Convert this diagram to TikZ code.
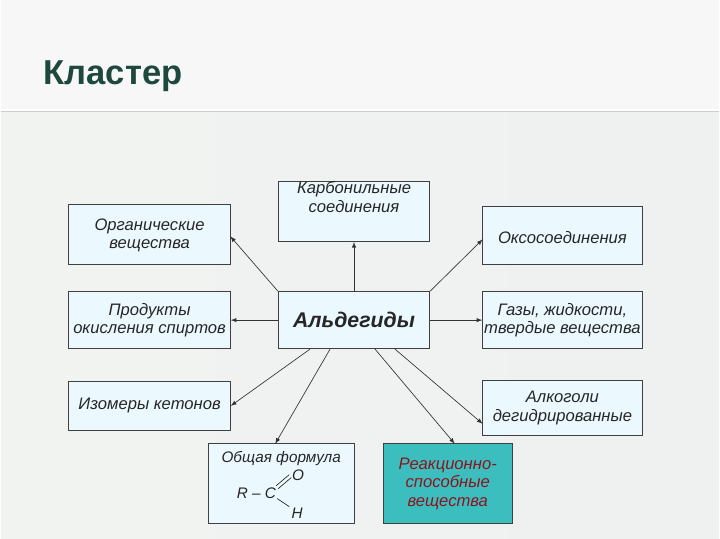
\documentclass[tikz,border=0pt]{standalone}
\usepackage{fontspec}
\setmainfont{Liberation Sans}
\begin{document}
\begin{tikzpicture}[x=0.75pt,y=-0.75pt,
  box/.style={draw=black!75,fill=cyan!8,line width=0.6pt,inner sep=0pt,align=center,font=\itshape\fontsize{12.5}{14}\selectfont,text=black!85},
  arr/.style={-latex,line width=0.5pt,black!80}]
\fill[left color=green!8!gray!10,right color=cyan!6!gray!12] (0,110) rectangle (720,540);
\fill[gray!6] (0,0) rectangle (720,110);
\draw[white,line width=1.5pt] (0,110)--(720,110);
\draw[gray!40,line width=0.8pt] (0,112)--(720,112);
\node[anchor=base west,font=\bfseries\fontsize{26}{30}\selectfont,text={rgb,255:red,30;green,72;blue,62}] (title) at (38,85) {Кластер};
\node[box,minimum width=121.5pt,minimum height=45pt] (org) at (149,235) {\\[-4pt]Органические\\вещества};
\node[box,minimum width=114pt,minimum height=41pt] (carb) at (354,212) {Карбонильные\\соединения\\[8pt]};
\node[box,minimum width=120pt,minimum height=43pt] (oxo) at (563,236) {\\[-2pt]Оксосоединения};
\node[box,minimum width=121.5pt,minimum height=43pt] (prod) at (149,321) {Продукты\\окисления спиртов};
\node[box,minimum width=114pt,minimum height=43pt,font=\bfseries\itshape\fontsize{16}{18}\selectfont] (ald) at (354,321) {Альдегиды};
\node[box,minimum width=120pt,minimum height=43pt] (gas) at (563,321) {Газы, жидкости,\\твердые вещества};
\node[box,minimum width=121.5pt,minimum height=37.5pt] (iso) at (149,407) {Изомеры кетонов};
\node[box,minimum width=120pt,minimum height=41pt] (alc) at (563,409) {Алкоголи\\дегидрированные};
\node[box,minimum width=110pt,minimum height=60pt] (form) at (281,485) {};
\node[anchor=north,font=\itshape\fontsize{11.5}{13}\selectfont,text=black!85] (ft) at (281,448) {Общая формула};
\node[font=\itshape\fontsize{11.5}{13}\selectfont,anchor=east,inner sep=0pt,text=black!85] (rc) at (276,495) {R -- C};
\node[font=\itshape\fontsize{11.5}{13}\selectfont,inner sep=0pt,text=black!85] (o) at (298,477) {O};
\node[font=\itshape\fontsize{11.5}{13}\selectfont,inner sep=0pt,text=black!85] (h) at (297,515) {H};
\draw[line width=0.4pt] (278,490)--(291,479) (276,487)--(289,476) (277,500)--(289,508);
\node[box,fill={rgb,255:red,60;green,190;blue,190},minimum width=97.5pt,minimum height=60pt,text={rgb,255:red,140;green,20;blue,30}] (react) at (448,485) {Реакционно-\\способные\\вещества};
\draw[arr] (ald.north) -- (carb.south);
\draw[arr] (ald.north west) -- (230,237);
\draw[arr] (ald.north east) -- (483,240);
\draw[arr] (ald.west) -- (prod.east);
\draw[arr] (ald.east) -- (gas.west);
\draw[arr] (310,350) -- (iso.east);
\draw[arr] (395,350) -- (483,425);
\draw[arr] (330,350) -- (275,445);
\draw[arr] (375,350) -- (455,445);
\end{tikzpicture}
\end{document}
